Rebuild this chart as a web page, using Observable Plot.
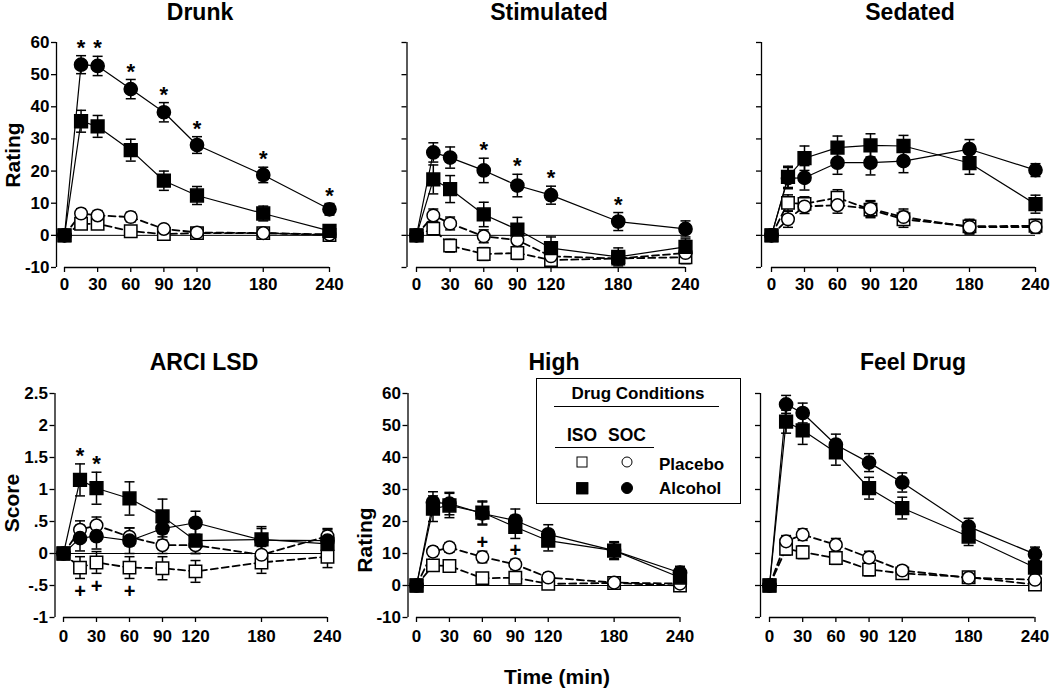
<!DOCTYPE html>
<html><head><meta charset="utf-8">
<script src="https://cdn.jsdelivr.net/npm/d3@7"></script>
<script src="https://cdn.jsdelivr.net/npm/@observablehq/plot@0.6"></script>
<style>
body{margin:0;background:#fff;}
#root{position:relative;width:1050px;height:690px;overflow:hidden;font-family:"Liberation Sans",Arial,sans-serif;color:#000;background:#fff;}
.panel{position:absolute;}
.panel svg{overflow:visible;}
.lbl{position:absolute;font-weight:bold;white-space:nowrap;transform:translate(-50%,-50%);line-height:1;}
.rot{transform:translate(-50%,-50%) rotate(-90deg);}
.legend{position:absolute;border:1.5px solid #000;background:#fff;box-sizing:border-box;z-index:5;}
.hl{position:absolute;height:0;border-top:1.2px solid #000;z-index:6;}
.sym{position:absolute;box-sizing:border-box;transform:translate(-50%,-50%);z-index:6;}
.z6{z-index:6;}
</style></head><body><div id="root"></div>
<script>
// ---------------- data ----------------
const times = [0, 15, 30, 60, 90, 120, 180, 240];
const timeTicks = [0, 30, 60, 90, 120, 180, 240];
const ratingTicks = [-10, 0, 10, 20, 30, 40, 50, 60];
const scoreTicks = [-1, -0.5, 0, 0.5, 1, 1.5, 2, 2.5];
const scoreTickLabels = ["-1", "-.5", "0", ".5", "1", "1.5", "2", "2.5"];
const panelTitles = ["Drunk", "Stimulated", "Sedated", "ARCI LSD", "High", "Feel Drug"];
const seriesNames = ["ISO Placebo", "SOC Placebo", "ISO Alcohol", "SOC Alcohol"];

// Drunk
const drunkIsoPla    = [0, 3.6, 3.6, 1.3, 0.4, 0.7, 0.7, 0.1];
const drunkIsoPlaErr = [0, 1.5, 1.5, 1.0, 0.8, 0.8, 0.8, 0.8];
const drunkSocPla    = [0, 6.8, 6.2, 5.7, 2.0, 0.9, 0.7, 0.3];
const drunkSocPlaErr = [0, 1.5, 1.5, 1.5, 1.0, 0.8, 0.8, 0.8];
const drunkIsoAlc    = [0, 35.5, 33.9, 26.5, 17.0, 12.4, 6.8, 1.4];
const drunkIsoAlcErr = [0, 3.4, 3.4, 3.4, 3.0, 2.8, 2.3, 1.2];
const drunkSocAlc    = [0, 53.1, 52.7, 45.5, 38.3, 28.1, 18.8, 8.1];
const drunkSocAlcErr = [0, 2.8, 3.0, 3.0, 3.0, 2.6, 2.4, 1.8];
const drunkStarTimes = [15, 30, 60, 90, 120, 180, 240];

// Stimulated
const stimIsoPla    = [0, 2.1, -3.2, -5.8, -5.5, -7.7, -7.2, -6.8];
const stimIsoPlaErr = [0, 2.0, 2.0, 2.0, 2.0, 1.8, 1.8, 2.0];
const stimSocPla    = [0, 6.2, 3.7, -0.3, -1.5, -6.5, -7.2, -5.5];
const stimSocPlaErr = [0, 2.0, 2.0, 2.0, 2.0, 2.0, 1.5, 2.0];
const stimIsoAlc    = [0, 17.4, 14.4, 6.5, 1.8, -4.0, -6.7, -3.6];
const stimIsoAlcErr = [0, 4.5, 4.2, 3.8, 3.8, 3.5, 2.8, 2.5];
const stimSocAlc    = [0, 25.8, 24.2, 20.2, 15.5, 12.5, 4.3, 2.0];
const stimSocAlcErr = [0, 3.0, 3.3, 3.8, 3.5, 2.8, 2.8, 2.5];
const stimStarTimes = [60, 90, 120, 180];

// Sedated
const sedIsoPla    = [0, 10.1, 9.8, 11.7, 8.0, 5.0, 2.8, 3.0];
const sedIsoPlaErr = [0, 2.5, 2.2, 2.5, 2.5, 2.5, 2.2, 2.0];
const sedSocPla    = [0, 5.0, 9.0, 9.4, 8.3, 5.7, 2.6, 2.6];
const sedSocPlaErr = [0, 2.5, 2.2, 2.5, 2.5, 2.5, 2.2, 2.0];
const sedIsoAlc    = [0, 18.2, 24.0, 27.3, 28.0, 27.8, 22.5, 9.7];
const sedIsoAlcErr = [0, 3.3, 3.8, 3.6, 3.6, 3.3, 3.5, 2.8];
const sedSocAlc    = [0, 17.8, 17.9, 22.6, 22.6, 23.1, 26.8, 20.3];
const sedSocAlcErr = [0, 3.3, 3.8, 3.6, 3.8, 3.6, 3.0, 2.0];

// ARCI LSD
const lsdIsoPla    = [0, -0.22, -0.14, -0.22, -0.23, -0.28, -0.14, -0.05];
const lsdIsoPlaErr = [0, 0.17, 0.17, 0.17, 0.18, 0.17, 0.17, 0.17];
const lsdSocPla    = [0, 0.37, 0.44, 0.26, 0.13, 0.13, -0.02, 0.27];
const lsdSocPlaErr = [0, 0.14, 0.13, 0.14, 0.13, 0.13, 0.13, 0.12];
const lsdIsoAlc    = [0, 1.15, 1.02, 0.86, 0.58, 0.20, 0.22, 0.15];
const lsdIsoAlcErr = [0, 0.25, 0.25, 0.26, 0.27, 0.20, 0.20, 0.20];
const lsdSocAlc    = [0, 0.24, 0.27, 0.20, 0.39, 0.48, 0.21, 0.20];
const lsdSocAlcErr = [0, 0.20, 0.20, 0.20, 0.18, 0.18, 0.18, 0.18];
const lsdStarTimes = [15, 30];
const lsdPlusTimes = [15, 30, 60];

// High
const highIsoPla    = [0, 6.3, 6.1, 2.3, 2.4, 0.5, 0.8, 0.0];
const highIsoPlaErr = [0, 1.5, 1.5, 1.2, 1.2, 1.0, 1.0, 1.2];
const highSocPla    = [0, 10.6, 11.9, 8.9, 6.6, 2.5, 0.9, 0.6];
const highSocPlaErr = [0, 1.5, 1.5, 1.8, 1.6, 1.5, 1.0, 1.0];
const highIsoAlc    = [0, 24.0, 25.0, 22.8, 18.3, 14.0, 10.9, 2.5];
const highIsoAlcErr = [0, 4.0, 3.8, 3.6, 3.6, 3.2, 2.8, 2.2];
const highSocAlc    = [0, 26.0, 25.6, 22.5, 20.3, 16.0, 10.9, 4.0];
const highSocAlcErr = [0, 3.3, 3.5, 3.6, 3.6, 3.0, 2.5, 2.0];
const highPlusTimes = [60, 90];

// Feel Drug
const feelIsoPla    = [0, 11.5, 10.4, 8.6, 5.0, 3.8, 2.6, 0.3];
const feelIsoPlaErr = [0, 2.0, 2.0, 2.0, 2.0, 1.8, 1.5, 1.5];
const feelSocPla    = [0, 13.8, 15.9, 12.7, 8.7, 4.7, 2.4, 1.8];
const feelSocPlaErr = [0, 1.8, 1.8, 2.0, 2.0, 1.5, 1.5, 1.5];
const feelIsoAlc    = [0, 51.2, 48.5, 41.6, 30.4, 24.2, 15.3, 5.6];
const feelIsoAlcErr = [0, 3.6, 4.4, 4.0, 3.4, 3.4, 2.8, 2.2];
const feelSocAlc    = [0, 56.6, 53.9, 44.0, 38.4, 32.2, 18.4, 9.8];
const feelSocAlcErr = [0, 2.8, 3.1, 3.3, 2.8, 3.0, 2.6, 2.2];

// ---------------- panel assembly ----------------
const panels = [
  {means: [drunkIsoPla, drunkSocPla, drunkIsoAlc, drunkSocAlc], errs: [drunkIsoPlaErr, drunkSocPlaErr, drunkIsoAlcErr, drunkSocAlcErr],
   stars: drunkStarTimes, starSeries: 3, plus: [], ticks: ratingTicks, tickLabels: null},
  {means: [stimIsoPla, stimSocPla, stimIsoAlc, stimSocAlc], errs: [stimIsoPlaErr, stimSocPlaErr, stimIsoAlcErr, stimSocAlcErr],
   stars: stimStarTimes, starSeries: 3, plus: [], ticks: ratingTicks, tickLabels: null},
  {means: [sedIsoPla, sedSocPla, sedIsoAlc, sedSocAlc], errs: [sedIsoPlaErr, sedSocPlaErr, sedIsoAlcErr, sedSocAlcErr],
   stars: [], starSeries: 3, plus: [], ticks: ratingTicks, tickLabels: null},
  {means: [lsdIsoPla, lsdSocPla, lsdIsoAlc, lsdSocAlc], errs: [lsdIsoPlaErr, lsdSocPlaErr, lsdIsoAlcErr, lsdSocAlcErr],
   stars: lsdStarTimes, starSeries: 2, plus: lsdPlusTimes, plusSeries: 0, plusBelow: true, ticks: scoreTicks, tickLabels: scoreTickLabels},
  {means: [highIsoPla, highSocPla, highIsoAlc, highSocAlc], errs: [highIsoPlaErr, highSocPlaErr, highIsoAlcErr, highSocAlcErr],
   stars: [], starSeries: 3, plus: highPlusTimes, plusSeries: 1, plusBelow: false, ticks: ratingTicks, tickLabels: null},
  {means: [feelIsoPla, feelSocPla, feelIsoAlc, feelSocAlc], errs: [feelIsoPlaErr, feelSocPlaErr, feelIsoAlcErr, feelSocAlcErr],
   stars: [], starSeries: 3, plus: [], ticks: ratingTicks, tickLabels: null}
];

// layout (pixels)
const layout = [
  {left: 0,   top: 0,   h: 300, axisX: 56,   x0: 64, x240: 329,   mt: 42, mb: 33, labels: true,  pad: 5},
  {left: 350, top: 0,   h: 300, axisX: 56.5, x0: 66, x240: 335,   mt: 42, mb: 33, labels: false, pad: 5},
  {left: 700, top: 0,   h: 300, axisX: 61,   x0: 71, x240: 335,   mt: 42, mb: 33, labels: false, pad: 5},
  {left: 0,   top: 330, h: 360, axisX: 54.5, x0: 63, x240: 327,   mt: 63, mb: 73, labels: true,  pad: 7},
  {left: 350, top: 330, h: 360, axisX: 57.5, x0: 66, x240: 329.5, mt: 63, mb: 73, labels: true,  pad: 7},
  {left: 700, top: 330, h: 360, axisX: 60,   x0: 69, x240: 334.5, mt: 63, mb: 73, labels: false, pad: 7}
];

const styles = [
  {symbol: "square", r: 7.0, fill: "white", dash: "7,4", sw: 1.8},
  {symbol: "circle", r: 6.3, fill: "white", dash: "7,4", sw: 1.8},
  {symbol: "square", r: 7.2, fill: "black", dash: null, sw: 1.2},
  {symbol: "circle", r: 6.6, fill: "black", dash: null, sw: 1.2}
];
const drawOrder = [0, 1, 3, 2];

const capSymbol = {
  draw(ctx, size) {
    const w = Math.sqrt(size / Math.PI);
    ctx.moveTo(-w, 0);
    ctx.lineTo(w, 0);
  }
};

const root = document.getElementById("root");

panels.forEach((p, i) => {
  const L = layout[i];
  const rows = [];
  p.means.forEach((arr, s) => arr.forEach((v, k) => {
    const e = p.errs[s][k];
    rows.push({t: times[k], v, e, lo: v - e, hi: v + e, s, name: seriesNames[s]});
  }));
  const errRows = rows.filter(d => d.e > 0);
  const yDomain = [p.ticks[0], p.ticks[p.ticks.length - 1]];
  const dOff = 240 * (L.x0 - L.axisX) / (L.x240 - L.x0);

  const marks = [];
  marks.push(Plot.ruleY([0], {stroke: "#000", strokeWidth: 1}));
  for (const s of drawOrder) {
    const st = styles[s];
    marks.push(Plot.line(rows.filter(d => d.s === s), {x: "t", y: "v", stroke: "#000", strokeWidth: st.sw, strokeDasharray: st.dash || undefined}));
  }
  marks.push(Plot.ruleX(errRows, {x: "t", y1: "lo", y2: "hi", stroke: "#000", strokeWidth: 1.5}));
  marks.push(Plot.dot(errRows, {x: "t", y: "hi", symbol: capSymbol, r: 5, stroke: "#000", strokeWidth: 1.5, fill: "none"}));
  marks.push(Plot.dot(errRows, {x: "t", y: "lo", symbol: capSymbol, r: 5, stroke: "#000", strokeWidth: 1.5, fill: "none"}));
  for (const s of drawOrder) {
    const st = styles[s];
    marks.push(Plot.dot(rows.filter(d => d.s === s), {x: "t", y: "v", symbol: st.symbol, r: st.r, fill: st.fill, stroke: "#000", strokeWidth: 1.5}));
  }
  // significance markers
  if (p.stars.length) {
    marks.push(Plot.text(rows.filter(d => d.s === p.starSeries && p.stars.includes(d.t)),
      {x: "t", y: "hi", text: () => "*", dy: -8, fontSize: 22, fontWeight: "bold"}));
  }
  if (p.plus.length) {
    marks.push(Plot.text(rows.filter(d => d.s === p.plusSeries && p.plus.includes(d.t)),
      {x: "t", y: p.plusBelow ? "lo" : "hi", text: () => "+", dy: p.plusBelow ? 13 : -9, fontSize: 20, fontWeight: "bold"}));
  }
  // axes
  marks.push(Plot.ruleX([-dOff], {y1: yDomain[0], y2: yDomain[1], stroke: "#000", strokeWidth: 1.3}));
  marks.push(Plot.ruleY([yDomain[0]], {x1: 0, x2: 240, stroke: "#000", strokeWidth: 1.3}));
  const fmt = L.labels
    ? (p.tickLabels ? (d => p.tickLabels[p.ticks.indexOf(d)]) : (d => String(d)))
    : (() => "");
  marks.push(Plot.axisY(p.ticks, {tickSize: 5, tickPadding: 2, tickFormat: fmt, label: null, strokeWidth: 1.3}));
  marks.push(Plot.axisX(timeTicks, {tickSize: 5, tickPadding: L.pad, label: null, strokeWidth: 1.3}));

  const chart = Plot.plot({
    width: 350,
    height: L.h,
    marginLeft: L.axisX,
    marginRight: 350 - L.x240,
    marginTop: L.mt,
    marginBottom: L.mb,
    x: {domain: [-dOff, 240]},
    y: {domain: yDomain},
    style: {fontFamily: "'Liberation Sans', Arial, sans-serif", fontSize: "17px", fontWeight: "bold", color: "#000", background: "transparent", overflow: "visible"},
    marks
  });
  const div = document.createElement("div");
  div.className = "panel";
  div.style.left = L.left + "px";
  div.style.top = L.top + "px";
  div.appendChild(chart);
  root.appendChild(div);
});

// ---------------- text labels ----------------
function label(text, x, y, size, rot) {
  const el = document.createElement("div");
  el.className = "lbl" + (rot ? " rot" : "");
  el.textContent = text;
  el.style.left = x + "px";
  el.style.top = y + "px";
  el.style.fontSize = size + "px";
  root.appendChild(el);
  return el;
}
const titlePos = [[200, 12], [549, 12], [910, 12], [204, 362], [554, 362], [913, 362]];
panelTitles.forEach((t, i) => label(t, titlePos[i][0], titlePos[i][1], 23));
label("Rating", 12, 155, 21, true);
label("Score", 11, 503, 21, true);
label("Rating", 364, 540, 21, true);
label("Time (min)", 557, 676, 21);

// ---------------- legend ----------------
const lg = document.createElement("div");
lg.className = "legend";
Object.assign(lg.style, {left: "536px", top: "378px", width: "205px", height: "126px"});
root.appendChild(lg);
function hline(x1, x2, y) {
  const el = document.createElement("div");
  el.className = "hl";
  Object.assign(el.style, {left: x1 + "px", top: y + "px", width: (x2 - x1) + "px"});
  root.appendChild(el);
}
function sym(x, y, size, round, filled) {
  const el = document.createElement("div");
  el.className = "sym";
  Object.assign(el.style, {left: x + "px", top: y + "px", width: size + "px", height: size + "px",
    border: "1.5px solid #000", borderRadius: round ? "50%" : "0", background: filled ? "#000" : "#fff"});
  root.appendChild(el);
}
const legendHeader = "Drug Conditions";
const legendCols = ["ISO", "SOC"];
const legendRows = ["Placebo", "Alcohol"];
label(legendHeader, 638, 393, 17).classList.add("z6");
hline(554, 719, 406);
label(legendCols[0], 582, 436, 17.5).classList.add("z6");
label(legendCols[1], 627, 436, 17.5).classList.add("z6");
hline(555, 654, 447);
sym(582, 462, 11, false, false);
sym(627, 462, 11, true, false);
sym(582, 488, 11.5, false, true);
sym(627, 488, 12, true, true);
const r1 = label(legendRows[0], 659, 464, 17); r1.style.transform = "translate(0,-50%)"; r1.classList.add("z6");
const r2 = label(legendRows[1], 659, 488, 17); r2.style.transform = "translate(0,-50%)"; r2.classList.add("z6");
</script></body></html>
